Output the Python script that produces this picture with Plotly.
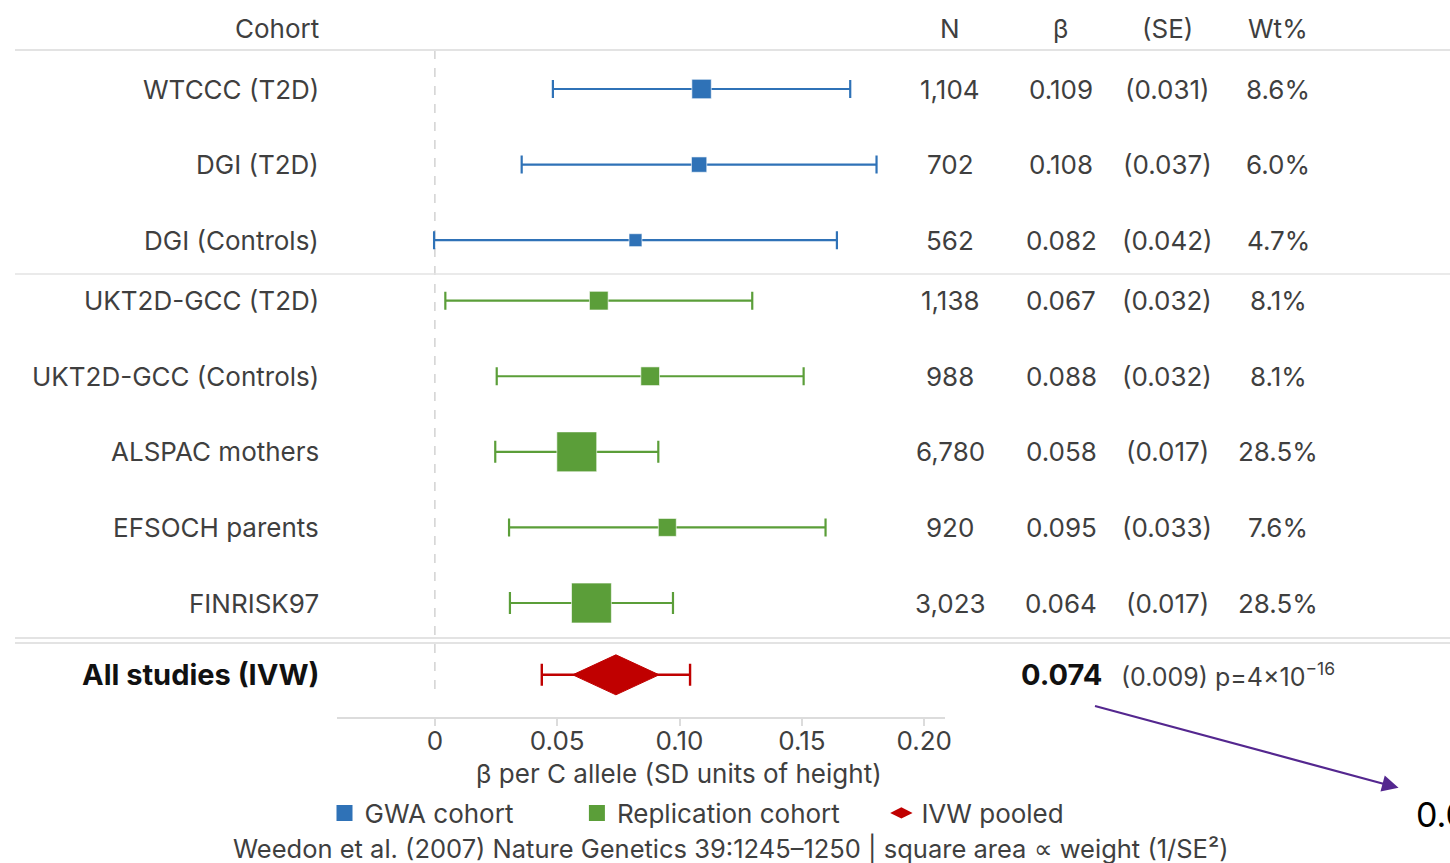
import math
import plotly.graph_objects as go

# ---------------- data ----------------
cohorts = ["WTCCC (T2D)", "DGI (T2D)", "DGI (Controls)", "UKT2D-GCC (T2D)",
           "UKT2D-GCC (Controls)", "ALSPAC mothers", "EFSOCH parents", "FINRISK97"]
groups = ["GWA", "GWA", "GWA", "Replication", "Replication", "Replication",
          "Replication", "Replication"]
n_sizes = [1104, 702, 562, 1138, 988, 6780, 920, 3023]
betas = [0.109, 0.108, 0.082, 0.067, 0.088, 0.058, 0.095, 0.064]
ses = [0.031, 0.037, 0.042, 0.032, 0.032, 0.017, 0.033, 0.017]
weights = [8.6, 6.0, 4.7, 8.1, 8.1, 28.5, 7.6, 28.5]

pooled_label = "All studies (IVW)"
pooled_beta = 0.074
pooled_se = 0.009
pooled_p_text = "p=4×10<sup>−16</sup>"
pooled_whisker = [0.0437, 0.1043]

header_labels = ["Cohort", "N", "β", "(SE)", "Wt%"]
x_ticks = [0, 0.05, 0.10, 0.15, 0.20]
x_tick_labels = ["0", "0.05", "0.10", "0.15", "0.20"]
legend_names = ["GWA cohort", "Replication cohort", "IVW pooled"]
x_title = "β per C allele (SD units of height)"
caption = "Weedon et al. (2007) Nature Genetics 39:1245–1250 | square area ∝ weight (1/SE²)"
arrow_text = "0.074"

# ---------------- layout / style ----------------
W, H = 1450, 863
FONT = "Inter"
FS = 26
TXT = "#3f3f3f"
colors = {"GWA": "#2F72B7", "Replication": "#5B9E39"}
RED = "#C00000"
row_y = [0, 1, 2, 2.8, 3.8, 4.8, 5.8, 6.8]
pooled_y = 7.75
UNIT, Y0 = 75.59, 89.0


def ypx(p):
    return (p - Y0) / UNIT


def xp(p):
    return p / W


fig = go.Figure()

# cohort squares + CIs
for i, c in enumerate(cohorts):
    col = colors[groups[i]]
    size = 8.5 * math.sqrt(weights[i]) - 5.5
    fig.add_trace(go.Scatter(
        x=[betas[i]], y=[row_y[i]], mode="markers",
        marker=dict(symbol="square", size=size, color=col,
                    line=dict(color="rgba(255,255,255,0.6)", width=1)),
        error_x=dict(type="data", array=[1.96 * ses[i]], color=col,
                     thickness=2.2, width=11 if weights[i] > 20 else 9),
        showlegend=False, hoverinfo="skip"))

# pooled whisker
fig.add_trace(go.Scatter(
    x=[pooled_beta], y=[pooled_y], mode="markers",
    marker=dict(size=1, color=RED, opacity=0),
    error_x=dict(type="data", symmetric=False,
                 array=[pooled_whisker[1] - pooled_beta],
                 arrayminus=[pooled_beta - pooled_whisker[0]],
                 color=RED, thickness=2.4, width=11),
    showlegend=False, hoverinfo="skip"))

# pooled diamond
lo = pooled_beta - 1.96 * pooled_se
hi = pooled_beta + 1.96 * pooled_se
dh = 20 / UNIT
fig.add_trace(go.Scatter(
    x=[lo, pooled_beta, hi, pooled_beta, lo],
    y=[pooled_y, pooled_y - dh, pooled_y, pooled_y + dh, pooled_y],
    mode="lines", fill="toself", fillcolor=RED,
    line=dict(color=RED, width=1), showlegend=False, hoverinfo="skip"))

# legend dummies
fig.add_trace(go.Scatter(x=[None], y=[None], mode="markers", name=legend_names[0] + "\u00a0" * 8,
                         marker=dict(symbol="square", size=16, color=colors["GWA"])))
fig.add_trace(go.Scatter(x=[None], y=[None], mode="markers", name=legend_names[1] + "\u00a0" * 5,
                         marker=dict(symbol="square", size=16, color=colors["Replication"])))
fig.add_trace(go.Scatter(x=[None], y=[None], mode="markers", name=legend_names[2],
                         marker=dict(symbol="diamond-wide", size=16, color=RED)))

ann = []
# header
col_x = [321, 950, 1061, 1167, 1278]
for j, h in enumerate(header_labels):
    ann.append(dict(x=xp(col_x[j]), xref="paper", y=ypx(28), yref="y", text=h,
                    showarrow=False, xanchor="right" if j == 0 else "center",
                    font=dict(family=FONT, size=FS, color=TXT)))
# rows
for i, c in enumerate(cohorts):
    vals = [c, f"{n_sizes[i]:,}", f"{betas[i]:.3f}", f"({ses[i]:.3f})", f"{weights[i]:.1f}%"]
    for j, v in enumerate(vals):
        ann.append(dict(x=xp(col_x[j]), xref="paper", y=row_y[i], yref="y", text=v,
                        showarrow=False, xanchor="right" if j == 0 else "center",
                        font=dict(family=FONT, size=FS, color=TXT)))
# pooled row
ann.append(dict(x=xp(321), xref="paper", y=pooled_y, yref="y", text=f"<b>{pooled_label}</b>",
                showarrow=False, xanchor="right", font=dict(family=FONT, size=29, color="#111")))
ann.append(dict(x=xp(1061), xref="paper", y=pooled_y, yref="y", text=f"<b>{pooled_beta:.3f}</b>",
                showarrow=False, xanchor="center", font=dict(family=FONT, size=29, color="#111")))
ann.append(dict(x=xp(1119), xref="paper", y=pooled_y, yref="y",
                text=f"({pooled_se:.3f}) {pooled_p_text}",
                showarrow=False, xanchor="left", font=dict(family=FONT, size=25, color=TXT)))
# axis title
ann.append(dict(x=xp(679), xref="paper", y=1 - 773 / H, yref="paper", text=x_title,
                showarrow=False, xanchor="center", yanchor="middle",
                font=dict(family=FONT, size=FS, color=TXT)))
# caption
ann.append(dict(x=xp(731), xref="paper", y=1 - 848 / H, yref="paper", text=caption,
                showarrow=False, xanchor="center", yanchor="middle",
                font=dict(family=FONT, size=25.5, color=TXT)))
# stray arrow annotation (text runs off the right edge, as in the reference)
ann.append(dict(x=xp(1095), xref="paper", y=1 - 706 / H, yref="paper", text=arrow_text,
                showarrow=True, ax=319, ay=86, xanchor="left", yanchor="top",
                arrowside="start", startarrowhead=2, startarrowsize=1.5, startstandoff=16,
                arrowwidth=2.2, arrowcolor="#54278F",
                font=dict(family=FONT, size=34, color="#000")))

shapes = []
line_gray = "#E3E3E3"
for py, wdt in [(50, 2), (274, 1.5), (638, 2), (643, 2)]:
    shapes.append(dict(type="line", xref="paper", yref="y", x0=xp(15), x1=1,
                       y0=ypx(py), y1=ypx(py), line=dict(color=line_gray, width=wdt)))
shapes.append(dict(type="line", xref="x", yref="y", x0=0, x1=0, y0=ypx(50), y1=ypx(693),
                   line=dict(color="#D2D2D2", width=1.5, dash="dash"), layer="below"))

fig.update_layout(
    width=W, height=H, margin=dict(l=0, r=0, t=0, b=0, autoexpand=False),
    paper_bgcolor="white", plot_bgcolor="white",
    font=dict(family=FONT, size=FS, color=TXT),
    xaxis=dict(domain=[xp(337), xp(945)], range=[-0.04, 0.2085],
               tickvals=x_ticks, ticktext=x_tick_labels, showgrid=False, zeroline=False,
               showline=True, linecolor="#DCDCDC", linewidth=2,
               ticks="outside", ticklen=7, tickcolor="#DCDCDC", tickwidth=1.5,
               ticklabelstandoff=-7, automargin=False,
               tickfont=dict(family=FONT, size=FS, color=TXT)),
    yaxis=dict(domain=[1 - 717 / H, 1], range=[ypx(717), ypx(0)], visible=False,
               showgrid=False, zeroline=False, automargin=False),
    showlegend=True,
    legend=dict(orientation="h", x=xp(697), xanchor="center", y=1 - 813 / H, yanchor="middle",
                font=dict(family=FONT, size=FS, color=TXT), itemsizing="trace",
                bgcolor="rgba(0,0,0,0)"),
    annotations=ann, shapes=shapes,
)

post = (
    "document.documentElement.style.overflow='hidden';"
    "document.body.style.margin='0';"
    "document.body.style.overflow='hidden';"
)
fig.write_html("out.html", config={"displayModeBar": False}, post_script=post)
